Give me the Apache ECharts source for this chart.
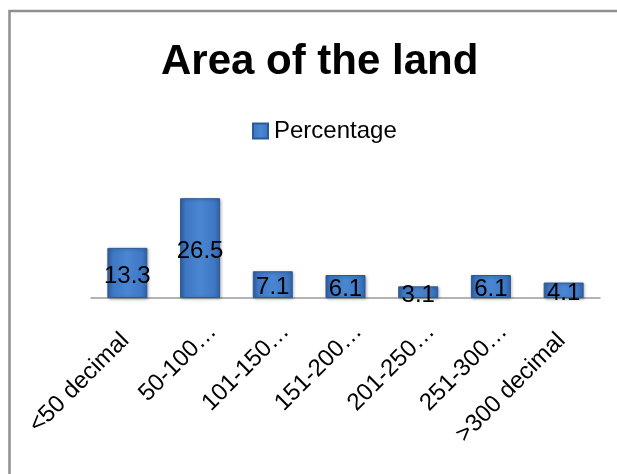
<!DOCTYPE html>
<html>
<head>
<meta charset="utf-8">
<script src="https://cdn.jsdelivr.net/npm/echarts@6/dist/echarts.min.js"></script>
<style>
  html, body { margin: 0; padding: 0; background: #ffffff; }
  #chart { width: 617px; height: 474px; }
</style>
</head>
<body>
<div id="chart"></div>
<script>
// Land size classes and share of holdings (%)
const categories = ['<50 decimal', '50-100 decimal', '101-150 decimal', '151-200 decimal', '201-250 decimal', '251-300 decimal', '>300 decimal'];
const tickLabels = ['<50 decimal', '50-100…', '101-150…', '151-200…', '201-250…', '251-300…', '>300 decimal'];
const percentage = [13.3, 26.5, 7.1, 6.1, 3.1, 6.1, 4.1];

const FONT = '"Liberation Sans", Arial, sans-serif';

const chart = echarts.init(document.getElementById('chart'), null, { renderer: 'canvas' });

const barFill = new echarts.graphic.LinearGradient(0, 0, 1, 0, [
  { offset: 0, color: '#3363a8' },
  { offset: 0.15, color: '#3f78c4' },
  { offset: 0.5, color: '#4a86d2' },
  { offset: 0.85, color: '#3f78c4' },
  { offset: 1, color: '#3363a8' }
]);

// Shortened (ellipsised) labels sit a little further along the slant than full ones
const axisItems = categories.map(function (name, i) {
  const shortened = tickLabels[i].slice(-1) === '…';
  return {
    value: name,
    textStyle: shortened
      ? { verticalAlign: 'top', lineHeight: 36 }
      : { verticalAlign: 'top', lineHeight: 28, padding: [0, 17, 0, 0] }
  };
});

chart.setOption({
  animation: false,
  backgroundColor: '#ffffff',
  graphic: [{
    type: 'rect',
    shape: { x: 9.5, y: 11, width: 700, height: 600 },
    style: { fill: 'none', stroke: '#8f8f8f', lineWidth: 2.5 },
    silent: true
  }],
  title: {
    text: 'Area of the land',
    left: 161,
    top: 41,
    padding: 0,
    textStyle: { fontFamily: FONT, fontWeight: 'bold', fontSize: 42, color: '#000000' }
  },
  legend: {
    data: ['Percentage'],
    left: 252,
    top: 119,
    padding: 0,
    icon: 'rect',
    itemWidth: 15,
    itemHeight: 15,
    itemGap: 6,
    textStyle: { fontFamily: FONT, fontSize: 24, color: '#000000', padding: [0, 0, 0, 1] }
  },
  grid: { left: 91, right: 17, top: 185, bottom: 176, containLabel: false },
  xAxis: {
    type: 'category',
    data: axisItems,
    axisLine: { show: true, lineStyle: { color: '#9a9a9a', width: 1.5 } },
    axisTick: { show: false },
    axisLabel: {
      interval: 0,
      rotate: 45,
      margin: 17,
      fontFamily: FONT,
      fontSize: 24,
      color: '#000000',
      formatter: function (value, idx) { return tickLabels[idx]; }
    }
  },
  yAxis: {
    type: 'value',
    min: 0,
    max: 30,
    show: false,
    splitLine: { show: false }
  },
  series: [{
    name: 'Percentage',
    type: 'bar',
    data: percentage,
    barWidth: 40,
    itemStyle: {
      color: barFill,
      borderColor: '#2c5a98',
      borderWidth: 1,
      shadowColor: 'rgba(0,0,0,0.3)',
      shadowBlur: 3,
      shadowOffsetX: 1,
      shadowOffsetY: 1
    },
    label: {
      show: true,
      position: 'inside',
      offset: [0, 3],
      fontFamily: FONT,
      fontSize: 24,
      color: '#000000',
      formatter: function (p) { return p.value.toFixed(1); }
    }
  }]
});
</script>
</body>
</html>
